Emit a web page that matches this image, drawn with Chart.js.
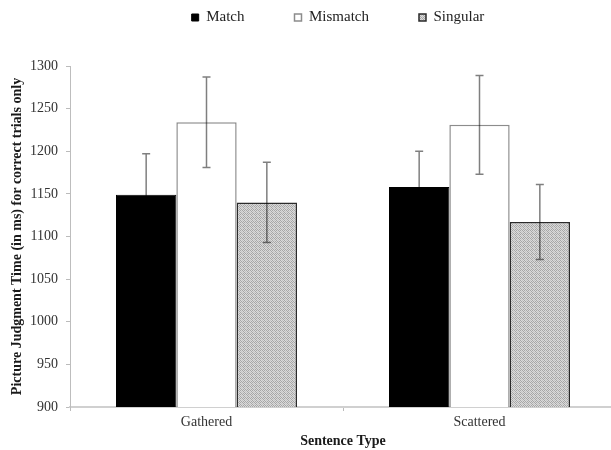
<!DOCTYPE html>
<html>
<head>
<meta charset="utf-8">
<script src="https://cdn.jsdelivr.net/npm/chart.js@4/dist/chart.umd.min.js"></script>
<style>
  body { margin: 0; background: #fff; }
  #wrap { width: 611px; height: 450px; overflow: hidden; }
</style>
</head>
<body>
<div id="wrap"><canvas id="myChart" width="616" height="450"></canvas></div>
<script>
const categories = ['Gathered', 'Scattered'];
const matchValues = [1149, 1158];
const matchErrors = [48, 42];
const mismatchValues = [1234, 1231];
const mismatchErrors = [53, 58];
const singularValues = [1140, 1117];
const singularErrors = [47, 44];
const yTicks = [900, 950, 1000, 1050, 1100, 1150, 1200, 1250, 1300];

// dotted grey fill for "Singular"
function makePattern() {
  const c = document.createElement('canvas');
  c.width = 4; c.height = 4;
  const g = c.getContext('2d');
  g.fillStyle = '#dadada';
  g.fillRect(0, 0, 4, 4);
  g.fillStyle = '#a6a6a6';
  [[0, 0], [2, 0], [1, 1], [3, 1], [0, 2], [2, 2], [1, 3], [3, 3]].forEach(p => g.fillRect(p[0], p[1], 1, 1));
  g.fillStyle = '#c2c2c2';
  g.fillRect(2, 0, 1, 1);
  g.fillRect(1, 3, 1, 1);
  return g.createPattern(c, 'repeat');
}
const dots = makePattern();

const serif = 'Liberation Serif';

// error bars (multiply so they vanish on the black bars)
const errorBars = {
  id: 'errorBars',
  afterDatasetsDraw(chart) {
    const ctx = chart.ctx;
    const y = chart.scales.y;
    ctx.save();
    ctx.globalCompositeOperation = 'multiply';
    ctx.strokeStyle = '#7f7f7f';
    ctx.lineWidth = 1.5;
    chart.data.datasets.forEach((ds, i) => {
      const meta = chart.getDatasetMeta(i);
      meta.data.forEach((bar, j) => {
        const v = ds.data[j], e = ds.errors[j];
        const top = y.getPixelForValue(v + e);
        const bot = y.getPixelForValue(v - e);
        ctx.beginPath();
        ctx.moveTo(bar.x, top); ctx.lineTo(bar.x, bot);
        ctx.moveTo(bar.x - 4, top); ctx.lineTo(bar.x + 4, top);
        ctx.moveTo(bar.x - 4, bot); ctx.lineTo(bar.x + 4, bot);
        ctx.stroke();
      });
    });
    ctx.restore();
  }
};

// legend height and position
const legendBox = {
  id: 'legendBox',
  beforeInit(chart) {
    const fit = chart.legend.fit;
    chart.legend.fit = function () {
      fit.bind(chart.legend)();
      this.height = 66;
    };
  },
  afterLayout(chart) {
    const lg = chart.legend;
    lg.top -= 40; lg.bottom -= 40;
    lg.left += 30; lg.right += 30;
  }
};

new Chart(document.getElementById('myChart'), {
  type: 'bar',
  data: {
    labels: categories,
    datasets: [{
      label: 'Match',
      data: matchValues,
      errors: matchErrors,
      backgroundColor: '#000000',
      borderColor: '#000000',
      borderWidth: 1
    }, {
      label: 'Mismatch',
      data: mismatchValues,
      errors: mismatchErrors,
      backgroundColor: '#ffffff',
      borderColor: '#8c8c8c',
      borderWidth: 1.5
    }, {
      label: 'Singular',
      data: singularValues,
      errors: singularErrors,
      backgroundColor: dots,
      borderColor: '#2a2a2a',
      borderWidth: 1.5
    }]
  },
  options: {
    responsive: false,
    animation: false,
    layout: { padding: 0 },
    datasets: {
      bar: { barPercentage: 1, categoryPercentage: 0.663 }
    },
    plugins: {
      tooltip: { enabled: false },
      legend: {
        position: 'top',
        labels: {
          boxWidth: 7,
          boxHeight: 7,
          padding: 50,
          color: '#222',
          font: { family: serif, size: 15 }
        }
      }
    },
    scales: {
      x: {
        grid: { display: true, drawOnChartArea: false, drawTicks: true, tickLength: 4, color: '#bbbbbb' },
        border: { color: '#d0d0d0', width: 2 },
        ticks: { color: '#333', padding: 3, font: { family: serif, size: 14 } },
        title: {
          display: true,
          text: 'Sentence Type',
          color: '#1a1a1a',
          padding: { top: 0, bottom: 0 },
          font: { family: serif, size: 14, weight: 'bold' }
        },
        afterFit(s) { s.height = 43; }
      },
      y: {
        min: 900,
        max: 1300,
        afterBuildTicks(s) { s.ticks = yTicks.map(v => ({ value: v })); },
        grid: { display: true, drawOnChartArea: false, drawTicks: true, tickLength: 4, color: '#bbbbbb' },
        border: { color: '#bdbdbd', width: 1 },
        ticks: {
          color: '#333',
          padding: 8,
          font: { family: serif, size: 14 },
          callback: v => String(v)
        },
        title: {
          display: true,
          text: 'Picture Judgment Time (in ms) for correct trials only',
          color: '#1a1a1a',
          padding: { top: 9, bottom: 0 },
          font: { family: serif, size: 14, weight: 'bold' }
        },
        afterFit(s) { s.width = 70; }
      }
    }
  },
  plugins: [errorBars, legendBox]
});
</script>
</body>
</html>
